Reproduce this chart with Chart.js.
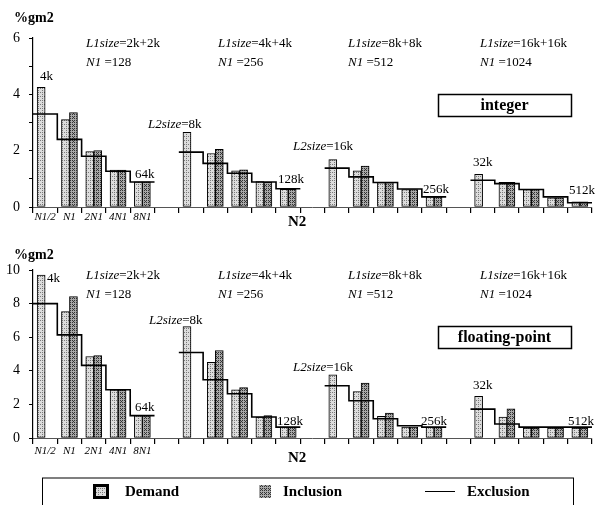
<!DOCTYPE html>
<html>
<head>
<meta charset="utf-8">
<script src="https://cdn.jsdelivr.net/npm/chart.js@4.4.1/dist/chart.umd.min.js"></script>
<style>
  body { margin: 0; background: #fff; }
  #wrap { position: relative; width: 595px; height: 505px; overflow: hidden; }
  canvas { position: absolute; left: 0; }
</style>
</head>
<body>
<div id="wrap">
  <canvas id="intChart" width="595" height="232" style="top:0"></canvas>
  <canvas id="fpChart" width="595" height="273" style="top:232px"></canvas>
</div>
<script>
// categories
const sizes = ['N1/2', 'N1', '2N1', '4N1', '8N1'];
const l1Sizes = ['2k+2k', '4k+4k', '8k+8k', '16k+16k'];
const n1Values = ['128', '256', '512', '1024'];

// integer benchmarks (%gm2), one row per L1 size
const intDemand = [
  [4.25, 3.1, 1.97, 1.31, 0.89],
  [2.65, 1.9, 1.28, 0.9, 0.63],
  [1.68, 1.28, 0.87, 0.62, 0.36],
  [1.16, 0.88, 0.62, 0.33, 0.18]
];
const intInclusion = [
  [null, 3.35, 2.0, 1.31, 0.89],
  [null, 2.05, 1.32, 0.88, 0.63],
  [null, 1.45, 0.87, 0.62, 0.36],
  [null, 0.88, 0.62, 0.33, 0.18]
];
const intExclusion = [
  [3.3, 2.4, 1.8, 1.27, 0.89],
  [1.95, 1.55, 1.2, 0.89, 0.65],
  [1.38, 1.07, 0.87, 0.64, 0.36],
  [0.95, 0.83, 0.62, 0.36, 0.15]
];

// floating-point benchmarks (%gm2)
const fpDemand = [
  [9.7, 7.52, 4.85, 2.87, 1.33],
  [6.63, 4.51, 2.87, 1.25, 0.65],
  [3.76, 2.77, 1.29, 0.65, 0.65],
  [2.48, 1.25, 0.59, 0.59, 0.59]
];
const fpInclusion = [
  [null, 8.42, 4.91, 2.87, 1.33],
  [null, 5.21, 3.0, 1.33, 0.65],
  [null, 3.27, 1.49, 0.65, 0.65],
  [null, 1.74, 0.59, 0.59, 0.59]
];
const fpExclusion = [
  [8.0, 6.14, 4.32, 2.87, 1.33],
  [5.09, 3.47, 2.63, 1.25, 0.65],
  [3.11, 2.22, 1.15, 0.73, 0.65],
  [1.72, 0.83, 0.65, 0.65, 0.65]
];

const SERIF = '"Liberation Serif", "DejaVu Serif", serif';

// one slot per size, plus an empty slot between L1 groups
function slotLabels() {
  const out = [];
  for (let g = 0; g < 4; g++) {
    sizes.forEach(s => out.push(g === 0 ? s : ''));
    if (g < 3) out.push('');
  }
  return out;
}
function slots(groups) {
  const out = [];
  groups.forEach((vals, g) => {
    out.push(...vals);
    if (g < 3) out.push(null);
  });
  return out;
}
// exclusion is drawn as a step line spanning each whole slot
function stepPoints(groups) {
  const pts = [];
  groups.forEach((vals, g) => {
    vals.forEach((v, k) => {
      const s = g * 6 + k;
      pts.push({ x: s - 0.5, y: v }, { x: s + 0.5, y: v });
    });
    pts.push({ x: g * 6 + 5, y: null });
  });
  return pts;
}

function makePattern(bg, dot, spots) {
  const c = document.createElement('canvas');
  c.width = 4; c.height = 4;
  const x = c.getContext('2d');
  x.fillStyle = bg; x.fillRect(0, 0, 4, 4);
  x.fillStyle = dot;
  spots.forEach(p => x.fillRect(p[0], p[1], 1, 1));
  return x.createPattern(c, 'repeat');
}
const demandFill = makePattern('#dcdcdc', '#7a7a7a', [[0, 0], [2, 2], [2, 0]]);
const inclusionFill = makePattern('#a8a8a8', '#333', [[0, 0], [2, 2], [2, 0], [0, 2], [1, 1]]);

function drawParts(ctx, x, y, parts, size) {
  ctx.textBaseline = 'middle';
  ctx.textAlign = 'left';
  parts.forEach(p => {
    const style = p[1] === 'i' ? 'italic ' : (p[1] === 'b' ? 'bold ' : '');
    ctx.font = style + size + 'px ' + SERIF;
    ctx.fillText(p[0], x, y);
    x += ctx.measureText(p[0]).width;
  });
}

const notesPlugin = {
  id: 'notes',
  afterDraw(chart, args, opts) {
    const ctx = chart.ctx;
    ctx.save();
    ctx.fillStyle = '#000';
    // axis unit
    drawParts(ctx, 14, opts.unitY, [['%gm2', 'b']], 14);
    // L1 size / N1 headers
    const hx = [86, 218, 348, 480];
    l1Sizes.forEach((s, g) => {
      drawParts(ctx, hx[g], 44, [['L1size', 'i'], ['=' + s, 'r']], 13);
      drawParts(ctx, hx[g], 63, [['N1', 'i'], [' =' + n1Values[g], 'r']], 13);
    });
    opts.items.forEach(it => drawParts(ctx, it.x, it.y, it.parts, 13));
    // N2 axis title
    drawParts(ctx, 288, opts.n2Y, [['N2', 'b']], 15);
    // panel tag
    ctx.lineWidth = 1.5;
    ctx.strokeStyle = '#000';
    ctx.strokeRect(438.5, 94.5, 133, 22);
    ctx.font = 'bold 16px ' + SERIF;
    ctx.textAlign = 'center';
    ctx.fillText(opts.tag, 504.5, 105.5);
    if (opts.legend) {
      const ly = 246;
      ctx.lineWidth = 1;
      ctx.strokeRect(42.5, ly, 531, 60);
      ctx.fillStyle = '#000';
      ctx.fillRect(93, ly + 6, 16, 15);
      ctx.fillStyle = demandFill;
      ctx.fillRect(96, ly + 9, 10, 9);
      ctx.fillStyle = inclusionFill;
      ctx.fillRect(259, ly + 7, 12, 13);
      ctx.strokeStyle = '#000';
      ctx.beginPath();
      ctx.moveTo(425, ly + 13.5); ctx.lineTo(455, ly + 13.5);
      ctx.stroke();
      ctx.fillStyle = '#000';
      drawParts(ctx, 125, ly + 14, [['Demand', 'b']], 15);
      drawParts(ctx, 283, ly + 14, [['Inclusion', 'b']], 15);
      drawParts(ctx, 467, ly + 14, [['Exclusion', 'b']], 15);
    }
    ctx.restore();
  }
};

function makeChart(id, demand, inclusion, exclusion, yMax, yStep, notes, bottomPad, tickPad) {
  return new Chart(document.getElementById(id), {
    type: 'bar',
    data: {
      labels: slotLabels(),
      datasets: [
        {
          type: 'line',
          label: 'Exclusion',
          data: stepPoints(exclusion),
          xAxisID: 'xl',
          borderColor: '#000',
          borderWidth: 1.6,
          pointRadius: 0,
          tension: 0,
          spanGaps: false,
          order: 0
        },
        {
          label: 'Demand',
          data: slots(demand),
          backgroundColor: demandFill,
          borderColor: '#000',
          borderWidth: 1,
          borderSkipped: false,
          barThickness: 8,
          order: 1
        },
        {
          label: 'Inclusion',
          data: slots(inclusion),
          backgroundColor: inclusionFill,
          borderColor: '#000',
          borderWidth: 1,
          borderSkipped: false,
          barThickness: 8,
          order: 1
        }
      ]
    },
    options: {
      responsive: false,
      animation: false,
      layout: { padding: { left: 0, right: 3, top: 38, bottom: bottomPad } },
      plugins: {
        legend: { display: false },
        tooltip: { enabled: false },
        notes: notes
      },
      scales: {
        x: {
          offset: true,
          border: { color: '#555', width: 1 },
          grid: { offset: true, drawOnChartArea: false, tickLength: 6, color: '#000', lineWidth: 1.2 },
          ticks: {
            autoSkip: false, maxRotation: 0, padding: tickPad, color: '#000',
            font: { family: SERIF, size: 11, style: 'italic' }
          },
          afterFit(scale) { scale.height = 25; }
        },
        xl: {
          type: 'linear', min: -0.5, max: 22.5, display: false,
          offset: false, bounds: 'data', grid: { offset: false }
        },
        y: {
          min: 0, max: yMax,
          border: { color: '#000', width: 1.2 },
          grid: { drawOnChartArea: false, tickLength: 4, color: '#000' },
          ticks: {
            stepSize: yStep, padding: 9, color: '#000',
            font: { family: SERIF, size: 14 },
            callback: v => (v % 2 === 0 ? v : '')
          },
          afterFit(scale) { scale.width = 33; }
        }
      }
    },
    plugins: [notesPlugin]
  });
}

makeChart('intChart', intDemand, intInclusion, intExclusion, 6, 0.5, {
  unitY: 18, n2Y: 222, tag: 'integer', legend: false,
  items: [
    { x: 40, y: 77, parts: [['4k', 'r']] },
    { x: 148, y: 125, parts: [['L2size', 'i'], ['=8k', 'r']] },
    { x: 135, y: 175, parts: [['64k', 'r']] },
    { x: 278, y: 180, parts: [['128k', 'r']] },
    { x: 293, y: 147, parts: [['L2size', 'i'], ['=16k', 'r']] },
    { x: 423, y: 190, parts: [['256k', 'r']] },
    { x: 473, y: 163, parts: [['32k', 'r']] },
    { x: 569, y: 191, parts: [['512k', 'r']] }
  ]
}, 0, -2);

makeChart('fpChart', fpDemand, fpInclusion, fpExclusion, 10, 1, {
  unitY: 23, n2Y: 226, tag: 'floating-point', legend: true,
  items: [
    { x: 47, y: 47, parts: [['4k', 'r']] },
    { x: 149, y: 89, parts: [['L2size', 'i'], ['=8k', 'r']] },
    { x: 135, y: 176, parts: [['64k', 'r']] },
    { x: 277, y: 190, parts: [['128k', 'r']] },
    { x: 293, y: 136, parts: [['L2size', 'i'], ['=16k', 'r']] },
    { x: 421, y: 190, parts: [['256k', 'r']] },
    { x: 473, y: 154, parts: [['32k', 'r']] },
    { x: 568, y: 190, parts: [['512k', 'r']] }
  ]
}, 42, 1);
</script>
</body>
</html>
